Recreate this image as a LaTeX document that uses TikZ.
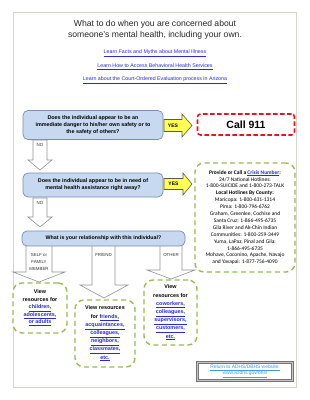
\documentclass[tikz,border=0pt]{standalone}
\usepackage{fontspec}
\setmainfont{Liberation Sans}
\newfontfamily\carlito{Carlito}
\definecolor{qfill}{HTML}{C6D9F1}
\definecolor{qborder}{HTML}{7A8DAE}
\definecolor{yesy}{HTML}{FFFF55}
\definecolor{gboxc}{HTML}{9BBB59}
\definecolor{redc}{HTML}{E8141B}
\definecolor{linkb}{HTML}{2A2AD8}
\definecolor{linkc}{HTML}{3A9BF0}
\definecolor{framec}{HTML}{D4D4CC}
\newcommand{\lnk}[1]{\textcolor{linkb}{\underline{#1}}}
\tikzset{
  qbox/.style={draw=qborder, fill=qfill, rounded corners=5pt, line width=0.7pt, align=center, inner sep=0pt, font=\bfseries\fontsize{5.4}{7.2}\selectfont},
  yesarrow/.style={draw=gray!70!black, fill=yesy, line width=0.6pt},
  yeslbl/.style={font=\bfseries\fontsize{5}{6}\selectfont, inner sep=0pt},
  blockarrow/.style={draw=gray!85, fill=white, line width=0.6pt},
  gbox/.style={draw=gboxc, dash pattern=on 5pt off 3.5pt, line width=1.4pt, rounded corners=9pt, fill=white, inner sep=0pt, align=center},
  lbl/.style={font=\fontsize{4.4}{7}\selectfont, align=center, text=black!80, inner sep=0pt},
  toplink/.style={font=\fontsize{5.3}{6}\selectfont, inner sep=0pt}
}
\begin{document}
\begin{tikzpicture}[x=1pt,y=-1pt]
\useasboundingbox (0,0) rectangle (309,400);
\fill[white] (0,0) rectangle (309,400);
\draw[framec, line width=0.6pt] (13,12) rectangle (296,387);

\node[font=\fontsize{8.6}{11.5}\selectfont, align=center, text=black!85] (title) at (155,30) {What to do when you are concerned about\\someone’s mental health, including your own.};
\node[toplink] (l1) at (155,53) {\lnk{Learn Facts and Myths about Mental Illness}};
\node[toplink] (l2) at (155,67) {\lnk{Learn How to Access Behavioral Health Services}};
\node[toplink] (l3) at (155,80) {\lnk{Learn about the Court-Ordered Evaluation process in Arizona}};

% question 1
\node[qbox, minimum width=140pt, minimum height=29pt] (q1) at (93,125) {Does the individual appear to be an\\immediate danger to his/her own safety or to\\the safety of others?};
\draw[yesarrow] (164,119.5) -- (182,119.5) -- (182,114) -- (192,125.5) -- (182,137) -- (182,131.5) -- (164,131.5) -- cycle;
\node[yeslbl] (yes1) at (173,125.5) {YES};
\node[draw=redc, dash pattern=on 4.5pt off 2.5pt, line width=1.6pt, rounded corners=3pt, minimum width=97pt, minimum height=21pt, font=\bfseries\fontsize{10.5}{12}\selectfont] (call) at (246,124.5) {Call 911};

% NO 1
\draw[blockarrow] (33,140) -- (47,140) -- (47,160) -- (52,160) -- (40,170) -- (28,160) -- (33,160) -- cycle;
\node[lbl] (no1) at (40,145) {NO};

% question 2
\node[qbox, minimum width=140pt, minimum height=24pt] (q2) at (93,185) {Does the individual appear to be in need of\\mental health assistance right away?};
\draw[yesarrow] (164,178.5) -- (183,178.5) -- (183,173) -- (192,184) -- (183,195) -- (183,189.5) -- (164,189.5) -- cycle;
\node[yeslbl] (yes2) at (173.5,184) {YES};

\node[gbox, minimum width=100pt, minimum height=109pt, font=\carlito\fontsize{5.5}{6.9}\selectfont] (crisis) at (245,217.5) {\textbf{Provide or Call a \lnk{Crisis Number}:}\\24/7 National Hotlines:\\1-800-SUICIDE and 1-800-273-TALK\\\textbf{Local Hotlines By County:}\\Maricopa: 1-800-631-1314\\Pima: 1-800-796-6762\\Graham, Greenlee, Cochise and\\Santa Cruz: 1-866-495-6735\\Gila River and Ak-Chin Indian\\Communities: 1-800-259-3449\\Yuma, LaPaz, Pinal and Gila:\\1-866-495-6735\\Mohave, Coconino, Apache, Navajo\\and Yavapai: 1-877-756-4090};

% NO 2
\draw[blockarrow] (33,198) -- (47,198) -- (47,217) -- (52,217) -- (40,227) -- (28,217) -- (33,217) -- cycle;
\node[lbl] (no2) at (40,203) {NO};

% relationship arrows
\draw[blockarrow] (26,245) -- (52,245) -- (52,272) -- (65,272) -- (39,282) -- (13,272) -- (26,272) -- cycle;
\node[lbl] (self) at (39,262) {SELF or\\FAMILY\\MEMBER};
\draw[blockarrow] (92,245) -- (115,245) -- (115,285) -- (128,285) -- (104,298) -- (80,285) -- (92,285) -- cycle;
\node[lbl] (friend) at (103.5,255) {FRIEND};
\draw[blockarrow] (160,245) -- (182,245) -- (182,270) -- (195,270) -- (171,279) -- (147,270) -- (160,270) -- cycle;
\node[lbl] (other) at (171,255) {OTHER};

% question 3
\node[qbox, minimum width=163pt, minimum height=15pt, font=\bfseries\fontsize{5.3}{7}\selectfont] (q3) at (103.5,238.5) {What is your relationship with this individual?};

% resources
\node[gbox, minimum width=54pt, minimum height=50pt, font=\bfseries\fontsize{5.4}{7.5}\selectfont] (rself) at (40,308) {View\\resources for\\\lnk{children,}\\\lnk{adolescents,}\\\lnk{or adults}};
\node[gbox, minimum width=60pt, minimum height=67pt, font=\bfseries\fontsize{5.4}{8.2}\selectfont] (rfriend) at (105,333.5) {View resources\\for \lnk{friends,}\\\lnk{acquaintances,}\\\lnk{colleagues,}\\\lnk{neighbors,}\\\lnk{classmates,}\\\lnk{etc.}};
\node[gbox, minimum width=53pt, minimum height=65pt, font=\bfseries\fontsize{5.4}{8.2}\selectfont] (rother) at (170.5,312.5) {View\\resources for\\\lnk{coworkers,}\\\lnk{colleagues,}\\\lnk{supervisors,}\\\lnk{customers,}\\\lnk{etc.}};

% return button
\node[draw=black!55, double=gray!45, double distance=1.8pt, fill=white, minimum width=95pt, minimum height=18pt, inner sep=0pt, font=\fontsize{4.9}{6}\selectfont, text=linkc, align=center] (ret) at (245,371.5) {\underline{Return to ADHS/DBHS website:}\\\underline{www.azdhs.gov/bhs/}};
\end{tikzpicture}
\end{document}
